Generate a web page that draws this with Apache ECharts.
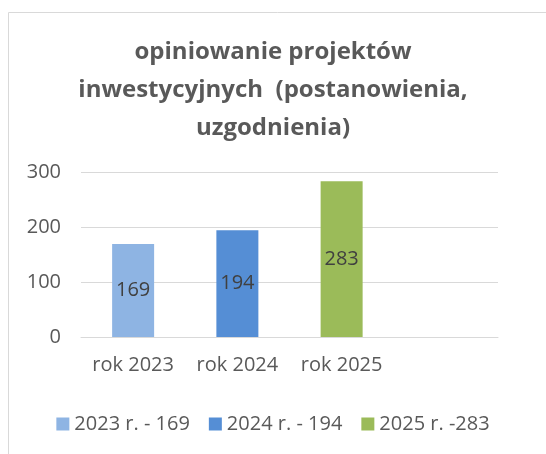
<!DOCTYPE html>
<html>
<head>
<meta charset="utf-8">
<script src="https://cdn.jsdelivr.net/npm/echarts@6/dist/echarts.min.js"></script>
<style>
  html, body { margin: 0; padding: 0; background: #fff; }
  #chart { width: 546px; height: 454px; }
</style>
</head>
<body>
<div id="chart"></div>
<script>
var categories = ['rok 2023', 'rok 2024', 'rok 2025', ''];
var seriesNames = ['2023 r. - 169', '2024 r. - 194', '2025 r. -283'];
var values2023 = [169, '-', '-', '-'];
var values2024 = ['-', 194, '-', '-'];
var values2025 = ['-', '-', 283, '-'];
var colors = ['#8eb4e3', '#558ed5', '#9bbb59'];
var yTicks = { min: 0, max: 300, interval: 100 };

var FONT = 'Open Sans, Liberation Sans, sans-serif';
var chart = echarts.init(document.getElementById('chart'));

function makeSeries(name, data, color) {
    return {
        name: name,
        type: 'bar',
        data: data,
        barWidth: 42,
        barGap: '-100%',
        itemStyle: { color: color },
        label: {
            show: true,
            position: 'inside',
            color: '#404040',
            fontSize: 20,
            fontFamily: FONT
        }
    };
}

chart.setOption({
    animation: false,
    title: {
        text: 'opiniowanie projektów\ninwestycyjnych  (postanowienia,\nuzgodnienia)',
        left: 'center',
        top: 28,
        textStyle: {
            color: '#595959',
            fontSize: 24,
            fontWeight: 'bold',
            fontFamily: FONT,
            lineHeight: 38
        }
    },
    graphic: [{
        type: 'rect',
        shape: { x: 8.5, y: 12.5, width: 600, height: 500 },
        style: { fill: 'none', stroke: '#d9d9d9', lineWidth: 1 },
        silent: true
    }],
    legend: {
        top: 409,
        left: 'center',
        itemWidth: 13,
        itemHeight: 13,
        itemGap: 19,
        icon: 'rect',
        textStyle: { color: '#595959', fontSize: 20, fontFamily: FONT },
        data: seriesNames
    },
    grid: { left: 81, right: 48, top: 172, bottom: 117 },
    xAxis: {
        type: 'category',
        data: categories,
        axisTick: { show: false },
        axisLine: { lineStyle: { color: '#d9d9d9', width: 1 } },
        axisLabel: {
            color: '#595959', fontSize: 20, fontFamily: FONT, margin: 18,
            interval: 0, hideOverlap: false
        }
    },
    yAxis: {
        type: 'value',
        min: yTicks.min,
        max: yTicks.max,
        interval: yTicks.interval,
        axisLine: { show: false },
        axisTick: { show: false },
        splitLine: { lineStyle: { color: '#d9d9d9', width: 1 } },
        axisLabel: { color: '#595959', fontSize: 20, fontFamily: FONT, margin: 20 }
    },
    series: [
        makeSeries(seriesNames[0], values2023, colors[0]),
        makeSeries(seriesNames[1], values2024, colors[1]),
        makeSeries(seriesNames[2], values2025, colors[2])
    ]
});
</script>
</body>
</html>
